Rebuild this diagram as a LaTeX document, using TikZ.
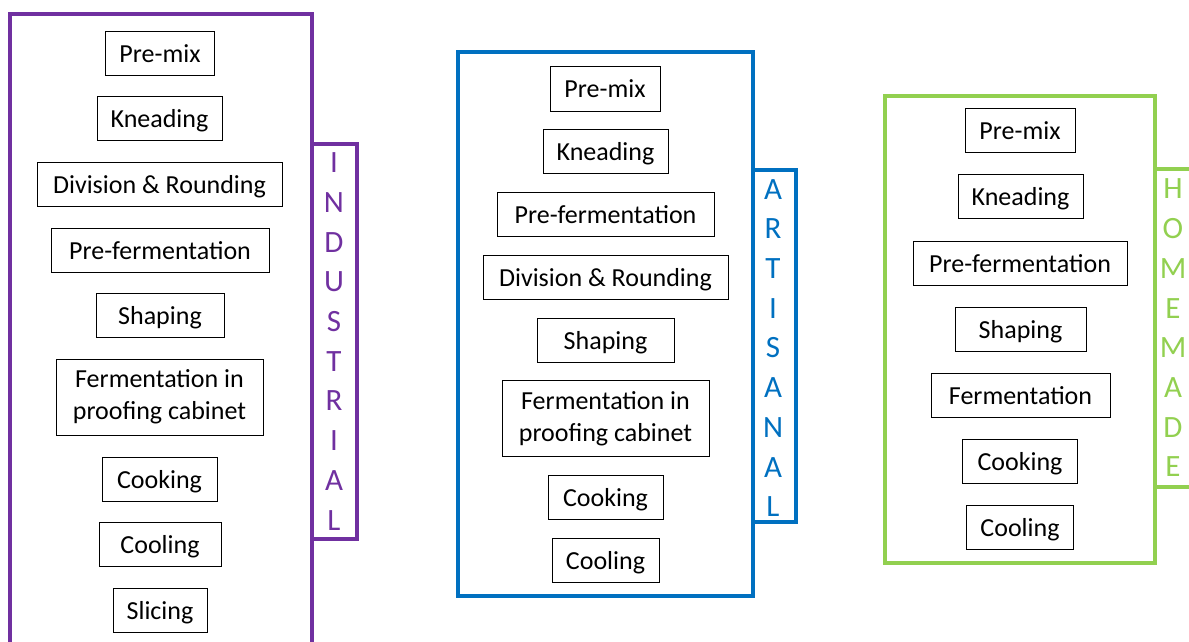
\documentclass[tikz,border=0pt]{standalone}
\usepackage{fontspec}
\setmainfont{Carlito}
\definecolor{indpurple}{HTML}{7030A0}
\definecolor{artblue}{HTML}{0070C0}
\definecolor{homegreen}{HTML}{92D050}
\newcommand{\stepfont}{\fontsize{26}{32}\selectfont}
\newcommand{\tagfont}{\fontsize{31}{39.7}\selectfont}
\tikzset{
    stepbox/.style={draw, line width=1pt, font=\stepfont, inner xsep=4pt, inner ysep=0pt, text height=31pt, text depth=13pt},
    twostepbox/.style={draw, line width=1pt, font=\stepfont, inner xsep=4pt, align=center, minimum height=76pt},
    groupbox/.style={line width=4pt},
    tagtext/.style={font=\tagfont, align=center},
}
\begin{document}
\begin{tikzpicture}[x=1pt, y=-1pt]
    \useasboundingbox (0,0) rectangle (1189,642);
    \clip (0,0) rectangle (1189,642);
    % Industrial
    \draw[groupbox, indpurple] (10,14) rectangle (312,660);
    \draw[groupbox, indpurple] (312,144) rectangle (357,539);
    \node[tagtext, indpurple] (indtag) at (334,341.5) {I\\N\\D\\U\\S\\T\\R\\I\\A\\L};
    \node[stepbox, minimum width=109pt] (indpremix) at (160,53.5) {Pre-mix};
    \node[stepbox, minimum width=125pt] (indknead) at (159.5,118.5) {Kneading};
    \node[stepbox, minimum width=245pt] (inddiv) at (159.5,184.5) {Division \& Rounding};
    \node[stepbox, minimum width=218pt] (indprefer) at (160,250) {Pre-fermentation};
    \node[stepbox, minimum width=128pt] (indshape) at (160,315) {Shaping};
    \node[twostepbox, minimum width=207pt] (indferm) at (159.5,397) {Fermentation in\\proofing cabinet};
    \node[stepbox, minimum width=115pt] (indcook) at (159.5,479) {Cooking};
    \node[stepbox, minimum width=122pt] (indcool) at (160,544) {Cooling};
    \node[stepbox, minimum width=94pt] (indslice) at (160,610) {Slicing};
    % Artisanal
    \draw[groupbox, artblue] (458,52) rectangle (753,596);
    \draw[groupbox, artblue] (753,170) rectangle (796,522);
    \node[tagtext, artblue] (arttag) at (773,348) {A\\R\\T\\I\\S\\A\\N\\A\\L};
    \node[stepbox, minimum width=110pt] (artpremix) at (605,89) {Pre-mix};
    \node[stepbox, minimum width=125pt] (artknead) at (605.5,151.5) {Kneading};
    \node[stepbox, minimum width=217pt] (artprefer) at (605.5,214) {Pre-fermentation};
    \node[stepbox, minimum width=245pt] (artdiv) at (605.5,277) {Division \& Rounding};
    \node[stepbox, minimum width=137pt] (artshape) at (605.5,340) {Shaping};
    \node[twostepbox, minimum width=207pt] (artferm) at (605.5,418.5) {Fermentation in\\proofing cabinet};
    \node[stepbox, minimum width=115pt] (artcook) at (605.5,497.5) {Cooking};
    \node[stepbox, minimum width=107pt] (artcool) at (605.5,560) {Cooling};
    % Homemade
    \draw[groupbox, homegreen] (885,96) rectangle (1155,563);
    \draw[groupbox, homegreen] (1155,169) rectangle (1200,487);
    \node[tagtext, homegreen] (hometag) at (1173,328) {H\\O\\M\\E\\M\\A\\D\\E};
    \node[stepbox, minimum width=110pt] (homepremix) at (1020,130.5) {Pre-mix};
    \node[stepbox, minimum width=125pt] (homeknead) at (1020.5,196.5) {Kneading};
    \node[stepbox, minimum width=214pt] (homeprefer) at (1020,263.5) {Pre-fermentation};
    \node[stepbox, minimum width=131pt] (homeshape) at (1020.5,329.5) {Shaping};
    \node[stepbox, minimum width=179pt] (homeferm) at (1020.5,395.5) {Fermentation};
    \node[stepbox, minimum width=115pt] (homecook) at (1020,461.5) {Cooking};
    \node[stepbox, minimum width=107pt] (homecool) at (1020,527.5) {Cooling};
\end{tikzpicture}
\end{document}
